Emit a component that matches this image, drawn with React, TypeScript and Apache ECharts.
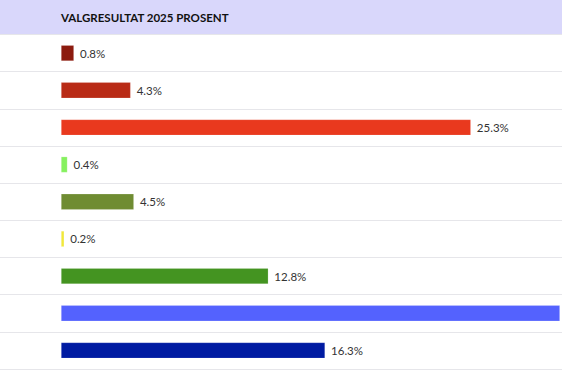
import React, { useEffect, useRef } from "react";
import * as echarts from "echarts";

const parties = ["R", "SV", "Ap", "MDG", "Sp", "KrF", "V", "FrP", "H"];
const values = [0.8, 4.3, 25.3, 0.4, 4.5, 0.2, 12.8, 30.8, 16.3];
const colors = ["#8c1b0f", "#b92b16", "#e9391e", "#86f15f", "#6f8c32", "#f1e83b", "#449421", "#5462fe", "#001ba2"];
const title = "VALGRESULTAT 2025 PROSENT";

export default function App() {
  const ref = useRef<HTMLDivElement>(null);
  useEffect(() => {
    if (!ref.current) return;
    const chart = echarts.init(ref.current, null, { renderer: "svg" });
    const pxPerUnit = 16.2;
    const W = 562;
    const left = 61;
    const maxVal = (W - left) / pxPerUnit;
    chart.setOption({
      animation: false,
      graphic: [
        { type: "rect", shape: { x: 0, y: 0, width: W, height: 34 }, style: { fill: "#d9d7fb" }, z: 0 },
        {
          type: "text",
          x: 61,
          y: 17,
          style: {
            text: title,
            font: "bold 11.5px Lato, 'Noto Sans', sans-serif",
            fill: "#111",
            textVerticalAlign: "middle",
          },
        },
      ],
      grid: { left: 0, right: 0, top: 34.5, bottom: 3 },
      xAxis: {
        type: "value",
        min: -left / pxPerUnit,
        max: maxVal,
        show: false,
        splitLine: { show: false },
      },
      yAxis: {
        type: "category",
        data: parties,
        inverse: true,
        axisLabel: { show: false },
        axisTick: { show: false },
        axisLine: { show: false },
        splitLine: { show: true, lineStyle: { color: "#e6e6ea", width: 1 } },
      },
      series: [
        {
          type: "bar",
          data: values.map((v, i) => ({
            value: v,
            itemStyle: { color: colors[i] },
            label: { show: v < maxVal - 3 },
          })),
          barWidth: 16,
          itemStyle: { borderColor: "rgba(255,255,255,0.3)", borderWidth: 0.6 },
          label: {
            show: true,
            position: "right",
            distance: 6,
            formatter: (p: any) => p.value + "%",
            color: "#333",
            fontSize: 11.5,
            fontFamily: "Lato, 'Noto Sans', sans-serif",
          },
        },
      ],
    });
    return () => chart.dispose();
  }, []);
  return <div ref={ref} style={{ position: "fixed", left: 0, top: 0, width: 562, height: 372, background: "#fff" }} />;
}
